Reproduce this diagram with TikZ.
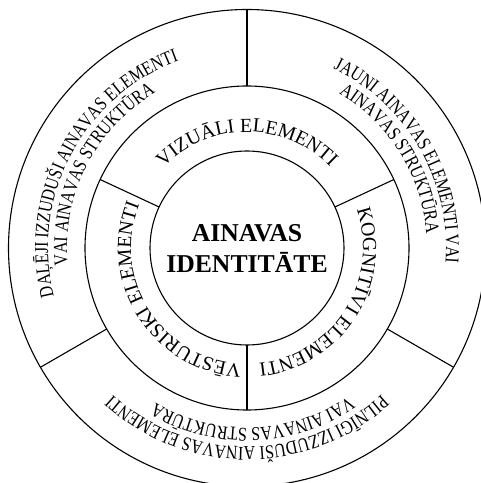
\documentclass[tikz,border=0pt]{standalone}
\usepackage{fontspec}
\setmainfont{Liberation Serif}
\newfontfamily\outerfont[FakeStretch=0.82]{Liberation Serif}
\usetikzlibrary{decorations.text,calc}
\tikzset{
  ring/.style={line width=1.1pt, draw=black},
  divider/.style={line width=1.1pt, draw=black},
  midtext/.style={decorate, decoration={text along path, text align=center,
     text={|\fontsize{20}{21}\selectfont|#1}}},
  outtext/.style={decorate, decoration={text along path, text align=center,
     text={|\outerfont\fontsize{19.5}{20}\selectfont|#1}}}
}
\begin{document}
\begin{tikzpicture}
\useasboundingbox (0pt,0pt) rectangle (481pt,483pt);
\clip (0pt,0pt) rectangle (481pt,483pt);
\fill[white] (0pt,0pt) rectangle (481pt,483pt);
\coordinate (C) at (247pt,235pt);
% circles
\draw[ring] (C) circle[radius=238.5pt];
\draw[ring] (C) circle[radius=162pt];
\draw[ring] (C) circle[radius=97pt];
% outer dividers
\foreach \a in {90,-30,210} {
  \draw[divider] ($(C)+(\a:162pt)$) -- ($(C)+(\a:238.5pt)$);
}
% middle dividers
\foreach \a in {25,155,270} {
  \draw[divider] ($(C)+(\a:97pt)$) -- ($(C)+(\a:162pt)$);
}
% centre title
\node[font=\bfseries\fontsize{25.7}{31}\selectfont, align=center, inner sep=0pt] (title) at (247pt,234pt) {AINAVAS\\IDENTITĀTE};
% middle ring texts
\path[midtext={VIZUĀLI ELEMENTI}] ($(C)+(150:116pt)$) arc[start angle=150, end angle=30, radius=116pt];
\path[midtext={KOGNITĪVI ELEMENTI}] ($(C)+(27.5:116pt)$) arc[start angle=27.5, end angle=-92.5, radius=116pt];
\path[midtext={VĒSTURISKI ELEMENTI}] ($(C)+(272.5:116pt)$) arc[start angle=272.5, end angle=152.5, radius=116pt];
% outer ring texts
\path[outtext={DAĻĒJI IZZUDUŠI AINAVAS ELEMENTI}] ($(C)+(212:199pt)$) arc[start angle=212, end angle=92, radius=199pt];
\path[outtext={VAI AINAVAS STRUKTŪRA}] ($(C)+(213:180pt)$) arc[start angle=213, end angle=93, radius=180pt];
\path[outtext={JAUNI AINAVAS ELEMENTI VAI}] ($(C)+(90:199pt)$) arc[start angle=90, end angle=-30, radius=199pt];
\path[outtext={AINAVAS STRUKTŪRA}] ($(C)+(92:180pt)$) arc[start angle=92, end angle=-28, radius=180pt];
\path[outtext={PILNĪGI IZZUDUŠI AINAVAS ELEMENTI}] ($(C)+(330:199pt)$) arc[start angle=330, end angle=210, radius=199pt];
\path[outtext={VAI AINAVAS STRUKTŪRA}] ($(C)+(332:180pt)$) arc[start angle=332, end angle=212, radius=180pt];
\end{tikzpicture}
\end{document}
